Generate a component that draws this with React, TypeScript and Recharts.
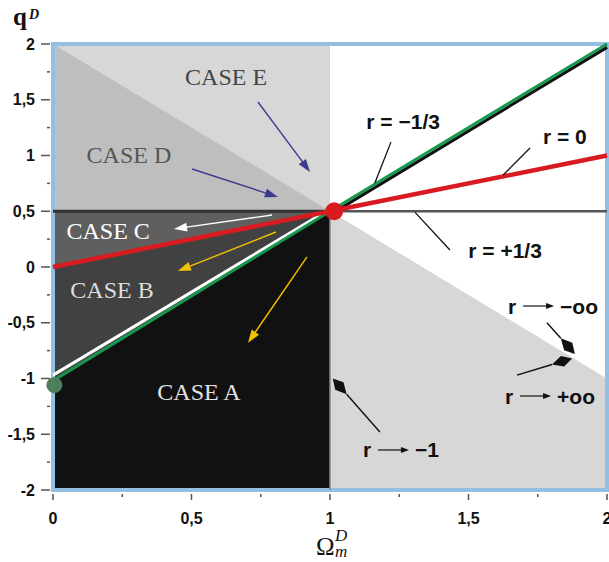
import React from "react";
import {
  ComposedChart,
  Area,
  Line,
  XAxis,
  YAxis,
  ReferenceArea,
  ReferenceLine,
  ReferenceDot,
} from "recharts";

// Omega_m^D sample points and the boundary lines through them
const omega = [0, 1, 2];
const lineE = [2, 0.5, -1]; // upper boundary q = 2 - 3/2 Omega
const lineA = [-1, 0.5, 2]; // r = -1/3 line
const lineR0 = [0, 0.5, 1]; // r = 0
const lineHalf = [0.5, 0.5, 0.5]; // r = +1/3
const whiteEdge = [-0.97, 0.52, null];
const greenEdge = [-1.02, 0.5, 2.0];
const blackEdge = [null, 0.47, 1.97];

const xTicks = [0, 0.25, 0.5, 0.75, 1, 1.25, 1.5, 1.75, 2];
const yTicks = [-2, -1.75, -1.5, -1.25, -1, -0.75, -0.5, -0.25, 0, 0.25, 0.5, 0.75, 1, 1.25, 1.5, 1.75, 2];

const rows = omega.map((x, i) => ({
  x,
  bg: [-2, 2],
  white: i >= 1 ? [lineE[i], 2] : null,
  caseD: i <= 1 ? [lineHalf[i], lineE[i]] : null,
  caseC: i <= 1 ? [lineR0[i], lineHalf[i]] : null,
  caseB: i <= 1 ? [lineA[i], lineR0[i]] : null,
  caseA: i <= 1 ? [-2, lineA[i]] : null,
  red: lineR0[i],
  whiteE: whiteEdge[i],
  greenE: greenEdge[i],
  blackE: blackEdge[i],
}));

// annotation arrows [x1, y1, x2, y2] in data units
const arrows = [
  { p: [0.74, 1.48, 0.928, 0.852], c: "#3e3a8e", head: "tri" },
  { p: [0.502, 0.879, 0.812, 0.628], c: "#3e3a8e", head: "tri" },
  { p: [0.791, 0.466, 0.437, 0.341], c: "#ffffff", head: "tri" },
  { p: [0.805, 0.314, 0.451, -0.036], c: "#f2c200", head: "tri" },
  { p: [0.917, 0.09, 0.704, -0.68], c: "#f2c200", head: "tri" },
  { p: [1.18, -1.48, 1.01, -1.0], c: "#111", head: "kite" },
  { p: [1.783, -0.5, 1.884, -0.78], c: "#111", head: "kite" },
  { p: [1.675, -0.97, 1.874, -0.82], c: "#111", head: "kite" },
  { p: [1.22, 1.12, 1.162, 0.753], c: "#111", head: "none" },
  { p: [1.722, 1.067, 1.625, 0.825], c: "#111", head: "none" },
  { p: [1.307, 0.49, 1.433, 0.152], c: "#111", head: "none" },
];

const caseLabels = [
  { t: "CASE E", x: 0.625, y: 1.704, c: "#444" },
  { t: "CASE D", x: 0.274, y: 1.004, c: "#555" },
  { t: "CASE C", x: 0.199, y: 0.323, c: "#fff" },
  { t: "CASE B", x: 0.213, y: -0.206, c: "#ddd" },
  { t: "CASE A", x: 0.527, y: -1.121, c: "#e2e2e2" },
];

const rLabels = [
  { t: "r = \u22121/3", x: 1.264, y: 1.309 },
  { t: "r = 0", x: 1.848, y: 1.166 },
  { t: "r = +1/3", x: 1.632, y: 0.152 },
];

const limitLabels = [
  { t: "\u2212oo", x: 1.643, y: -0.35 },
  { t: "+oo", x: 1.632, y: -1.157 },
  { t: "\u22121", x: 1.119, y: -1.641 },
];

const sans = "'Liberation Sans', Arial, sans-serif";
const serif = "'Liberation Serif', 'Times New Roman', serif";

const fmt = (v: number) => String(v).replace(".", ",");
const isMajor = (v: number) => Math.abs(v * 2 - Math.round(v * 2)) < 1e-6;

function YTick(props: any) {
  const { x, y, payload } = props;
  const v = payload.value;
  const major = isMajor(v);
  return (
    <g>
      <line x1={major ? x - 12 : x - 6} x2={x - 3} y1={y} y2={y} stroke="#555" strokeWidth={1.5} />
      {major && (
        <text x={x - 18} y={y + 5.5} textAnchor="end" fontFamily={sans} fontWeight="bold" fontSize={16} fill="#111">
          {fmt(v)}
        </text>
      )}
    </g>
  );
}

function XTick(props: any) {
  const { x, y, payload } = props;
  const v = payload.value;
  const major = isMajor(v);
  return (
    <g>
      <line x1={x} x2={x} y1={y + 4} y2={major ? y + 10 : y + 7} stroke="#555" strokeWidth={1.5} />
      {major && (
        <text x={x} y={y + 34} textAnchor="middle" fontFamily={sans} fontWeight="bold" fontSize={16} fill="#111">
          {fmt(v)}
        </text>
      )}
    </g>
  );
}

function arrowShape(color: string, head: string) {
  return (p: any) => {
    const { x1, y1, x2, y2 } = p;
    const dx = x2 - x1;
    const dy = y2 - y1;
    const len = Math.hypot(dx, dy) || 1;
    const ux = dx / len;
    const uy = dy / len;
    const nx = -uy;
    const ny = ux;
    if (head === "none") {
      return <line x1={x1} y1={y1} x2={x2} y2={y2} stroke={color} strokeWidth={1.3} />;
    }
    if (head === "tri") {
      const bx = x2 - ux * 13;
      const by = y2 - uy * 13;
      const pts = `${x2},${y2} ${bx + nx * 4.5},${by + ny * 4.5} ${bx - nx * 4.5},${by - ny * 4.5}`;
      return (
        <g>
          <line x1={x1} y1={y1} x2={bx + ux * 2} y2={by + uy * 2} stroke={color} strokeWidth={1.4} />
          <polygon points={pts} fill={color} />
        </g>
      );
    }
    const mx = x2 - ux * 10;
    const my = y2 - uy * 10;
    const tx = x2 - ux * 21;
    const ty = y2 - uy * 21;
    const pts = `${x2},${y2} ${mx + nx * 5.5},${my + ny * 5.5} ${tx},${ty} ${mx - nx * 5.5},${my - ny * 5.5}`;
    return (
      <g>
        <line x1={x1} y1={y1} x2={tx} y2={ty} stroke={color} strokeWidth={1.4} />
        <polygon points={pts} fill={color} />
      </g>
    );
  };
}

export default function App() {
  return (
    <div style={{ position: "absolute", left: 0, top: 0, width: 609, height: 562 }}>
      <ComposedChart width={609} height={562} data={rows} margin={{ top: 44, right: 2, bottom: 42, left: 0 }}>
        <XAxis
          dataKey="x"
          type="number"
          domain={[0, 2]}
          ticks={xTicks}
          interval={0}
          height={30}
          axisLine={false}
          tickLine={false}
          tickSize={0}
          tickMargin={0}
          tick={<XTick />}
        />
        <YAxis
          type="number"
          domain={[-2, 2]}
          ticks={yTicks}
          interval={0}
          width={53}
          axisLine={false}
          tickLine={false}
          tickSize={0}
          tickMargin={0}
          tick={<YTick />}
        />
        <Area dataKey="bg" type="linear" stroke="none" fill="#d7d7d7" fillOpacity={1} isAnimationActive={false} dot={false} activeDot={false} />
        <Area dataKey="white" type="linear" stroke="none" fill="#ffffff" fillOpacity={1} isAnimationActive={false} dot={false} activeDot={false} />
        <Area dataKey="caseD" type="linear" stroke="none" fill="#bebebe" fillOpacity={1} isAnimationActive={false} dot={false} activeDot={false} />
        <Area dataKey="caseC" type="linear" stroke="none" fill="#5f5f5f" fillOpacity={1} isAnimationActive={false} dot={false} activeDot={false} />
        <Area dataKey="caseB" type="linear" stroke="none" fill="#414141" fillOpacity={1} isAnimationActive={false} dot={false} activeDot={false} />
        <Area dataKey="caseA" type="linear" stroke="none" fill="#111111" fillOpacity={1} isAnimationActive={false} dot={false} activeDot={false} />

        <ReferenceLine segment={[{ x: 1, y: -2 }, { x: 1, y: 0.5 }]} stroke="#888" strokeWidth={1.5} />
        <ReferenceLine segment={[{ x: 0, y: 0.5 }, { x: 1, y: 0.5 }]} stroke="#333" strokeWidth={3} />
        <ReferenceLine segment={[{ x: 1, y: 0.5 }, { x: 2, y: 0.5 }]} stroke="#555" strokeWidth={2.5} />

        <Line dataKey="blackE" type="linear" stroke="#111" strokeWidth={3} dot={false} activeDot={false} isAnimationActive={false} />
        <Line dataKey="whiteE" type="linear" stroke="#ffffff" strokeWidth={3} dot={false} activeDot={false} isAnimationActive={false} />
        <Line dataKey="greenE" type="linear" stroke="#16994e" strokeWidth={3} dot={false} activeDot={false} isAnimationActive={false} />
        <Line dataKey="red" type="linear" stroke="#d81b20" strokeWidth={4.5} dot={false} activeDot={false} isAnimationActive={false} />

        {arrows.map((a, i) => (
          <ReferenceLine
            key={"a" + i}
            segment={[{ x: a.p[0], y: a.p[1] }, { x: a.p[2], y: a.p[3] }]}
            stroke={a.c}
            shape={arrowShape(a.c, a.head)}
          />
        ))}

        <ReferenceDot x={1.015} y={0.5} r={9} fill="#d81b20" stroke="none" />
        <ReferenceDot x={0.005} y={-1.06} r={8} fill="#4d7f5a" stroke="none" />

        {caseLabels.map((l, i) => (
          <ReferenceDot
            key={"c" + i}
            x={l.x}
            y={l.y}
            r={1}
            shape={(p: any) => (
              <text x={p.cx} y={p.cy + 8} textAnchor="middle" fontFamily={serif} fontSize={24} fill={l.c}>
                {l.t}
              </text>
            )}
          />
        ))}
        {rLabels.map((l, i) => (
          <ReferenceDot
            key={"r" + i}
            x={l.x}
            y={l.y}
            r={1}
            shape={(p: any) => (
              <text x={p.cx} y={p.cy + 7.5} textAnchor="middle" fontFamily={sans} fontWeight="bold" fontSize={21} fill="#111">
                {l.t}
              </text>
            )}
          />
        ))}
        {limitLabels.map((l, i) => (
          <ReferenceDot
            key={"l" + i}
            x={l.x}
            y={l.y}
            r={1}
            shape={(p: any) => (
              <g>
                <text x={p.cx} y={p.cy + 7.5} fontFamily={sans} fontWeight="bold" fontSize={21} fill="#111">
                  r
                </text>
                <line x1={p.cx + 15} x2={p.cx + 40} y1={p.cy} y2={p.cy} stroke="#111" strokeWidth={1.2} />
                <polygon points={`${p.cx + 46},${p.cy} ${p.cx + 38},${p.cy - 3} ${p.cx + 38},${p.cy + 3}`} fill="#111" />
                <text x={p.cx + 52} y={p.cy + 7.5} fontFamily={sans} fontWeight="bold" fontSize={21} fill="#111">
                  {l.t}
                </text>
              </g>
            )}
          />
        ))}

        <ReferenceArea x1={0} x2={2} y1={-2} y2={2} fill="none" stroke="#93bfe3" strokeWidth={4} />
      </ComposedChart>
      <svg width={609} height={562} style={{ position: "absolute", left: 0, top: 0, pointerEvents: "none" }}>
        <text x={13} y={25} fontFamily={serif} fontWeight="bold" fontSize={25} fill="#111">
          q
        </text>
        <text x={29} y={19} fontFamily={serif} fontStyle="italic" fontWeight="bold" fontSize={14} fill="#111">
          D
        </text>
        <text x={316} y={555} fontFamily={serif} fontSize={25} fill="#111">
          Ω
        </text>
        <text x={335} y={541} fontFamily={serif} fontStyle="italic" fontSize={17} fill="#111">
          D
        </text>
        <text x={335} y={557} fontFamily={serif} fontStyle="italic" fontSize={17} fill="#111">
          m
        </text>
      </svg>
    </div>
  );
}
